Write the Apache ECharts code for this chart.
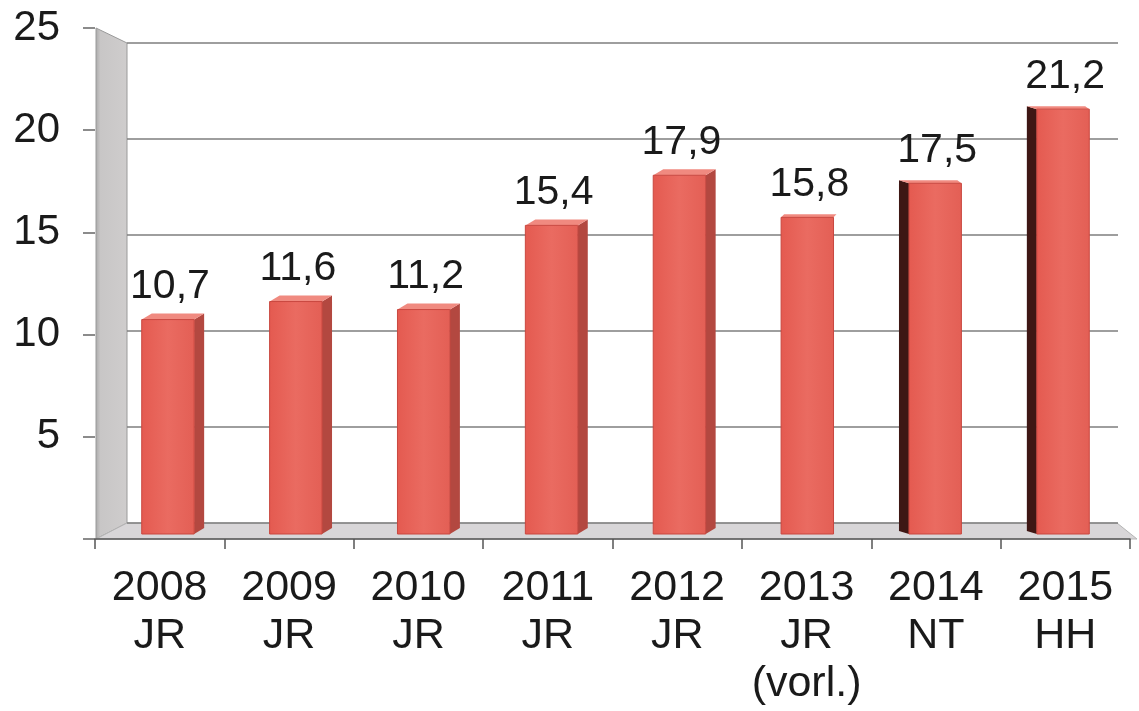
<!DOCTYPE html>
<html style="height:100%;">
<head>
    <meta charset="utf-8">
    <script src="https://cdn.jsdelivr.net/npm/echarts@6/dist/echarts.min.js"></script>
</head>
<body style="height:100%;margin:0;background:#fff;">
    <div id="main" style="width:1139px;height:711px;"></div>
</body>
</html>
<script>
    // Jahre und Quellen (Kategorien)
    var years = ['2008', '2009', '2010', '2011', '2012', '2013', '2014', '2015'];
    var sources = ['JR', 'JR', 'JR', 'JR', 'JR', 'JR\n(vorl.)', 'NT', 'HH'];
    // Werte
    var values = [10.7, 11.6, 11.2, 15.4, 17.9, 15.8, 17.5, 21.2];
    // y-Achse
    var yMin = 0, yMax = 25, yStep = 5;

    var categories = years.map(function (y, i) { return y + '\n' + sources[i]; });
    var font = "'Liberation Sans', Arial, sans-serif";

    var myChart = echarts.init(document.getElementById('main'));

    // 3D-Balken: Vorderseite + Seitenfläche
    function renderBar(params, api) {
        var i = api.value(0), v = api.value(1);
        var top = api.coord([i, v]);
        var base = api.coord([i, 0]);
        var w = api.size([1, 0])[0] * 0.41;
        var x0 = top[0] - w / 2, x1 = top[0] + w / 2;
        var d = 10, dy = 6;
        var children = [];
        if (i < 5) {
            children.push({type: 'polygon', shape: {points: [[x1, top[1]], [x1 + d, top[1] - dy], [x1 + d, base[1] - dy], [x1, base[1]]]},
                style: {fill: '#b34840'}});
            children.push({type: 'polygon', shape: {points: [[x0, top[1]], [x0 + d, top[1] - dy], [x1 + d, top[1] - dy], [x1, top[1]]]},
                style: {fill: '#f08a80'}});
        } else if (i > 5) {
            children.push({type: 'polygon', shape: {points: [[x0, top[1]], [x0 - d, top[1] - dy + 3], [x0 - d, base[1] - dy + 3], [x0, base[1]]]},
                style: {fill: '#3e1714'}});
            children.push({type: 'polygon', shape: {points: [[x0 - d, top[1] - dy + 3], [x1 - 4, top[1] - dy + 3], [x1, top[1]], [x0, top[1]]]},
                style: {fill: '#f08a80'}});
        } else {
            children.push({type: 'polygon', shape: {points: [[x0, top[1]], [x0 + 3, top[1] - 3], [x1 + 3, top[1] - 3], [x1, top[1]]]},
                style: {fill: '#f08a80'}});
        }
        children.push({type: 'rect', shape: {x: x0, y: top[1], width: w, height: base[1] - top[1]},
            style: {fill: new echarts.graphic.LinearGradient(0, 0, 1, 0, [
                {offset: 0, color: '#e45a50'}, {offset: 0.5, color: '#ea6b61'}, {offset: 1, color: '#e35f55'}]),
                stroke: '#c9473f', lineWidth: 1}});
        children.push({type: 'text', x: top[0] + 2, y: top[1] - 12,
            style: {text: String(v).replace('.', ','), font: '41px ' + font, fill: '#1a1a1a',
                align: 'center', verticalAlign: 'bottom'}});
        return {type: 'group', children: children};
    }

    var option = {
        backgroundColor: '#fff',
        animation: false,
        textStyle: {fontFamily: font},
        // Seitenwand und Boden
        graphic: [
            {type: 'polygon', z: -1, shape: {points: [[96, 28], [127, 43], [127, 523], [96, 539]]},
                style: {fill: new echarts.graphic.LinearGradient(0, 0, 1, 0, [
                    {offset: 0, color: '#a9a9a9'}, {offset: 0.15, color: '#c8c6c6'}, {offset: 1, color: '#cfcdcd'}]),
                    stroke: '#9a9a9a', lineWidth: 1}},
            {type: 'polygon', z: -1, shape: {points: [[96, 539], [127, 523], [1117, 523], [1137, 539]]},
                style: {fill: '#d8d6d8', stroke: '#b5b5b5', lineWidth: 1}}
        ],
        grid: [
            {left: 95, right: 9, top: 28, bottom: 172},
            {left: 127, right: 21, top: 43, bottom: 188},
            {left: 104, right: 12, top: 33, bottom: 177}
        ],
        xAxis: [
            {type: 'category', gridIndex: 0, data: categories,
                axisLine: {show: true, lineStyle: {color: '#555', width: 1.5}},
                axisTick: {show: true, length: 10, lineStyle: {color: '#555', width: 1.5}},
                axisLabel: {show: true, margin: 25, fontSize: 43, lineHeight: 48, color: '#1a1a1a',
                    fontFamily: font, align: 'center', interval: 0}},
            {type: 'category', gridIndex: 1, data: categories, show: false},
            {type: 'category', gridIndex: 2, data: categories, show: false}
        ],
        yAxis: [
            {type: 'value', gridIndex: 0, min: yMin, max: yMax, interval: yStep,
                axisLine: {show: false},
                axisTick: {show: true, length: 12, lineStyle: {color: '#666', width: 1.5}},
                splitLine: {show: false},
                axisLabel: {show: true, margin: 35, fontSize: 42, color: '#1a1a1a', fontFamily: font,
                    formatter: function (v) { return v === 0 ? '' : String(v); }}},
            {type: 'value', gridIndex: 1, min: yMin, max: yMax, interval: yStep,
                axisLine: {show: false}, axisTick: {show: false}, axisLabel: {show: false},
                splitLine: {show: true, lineStyle: {color: '#7e7e7e', width: 1.5}}},
            {type: 'value', gridIndex: 2, min: yMin, max: yMax, interval: yStep, show: false,
                splitLine: {show: false}}
        ],
        series: [
            {
                type: 'custom',
                xAxisIndex: 2,
                yAxisIndex: 2,
                renderItem: renderBar,
                encode: {x: 0, y: 1},
                data: values.map(function (v, i) { return [i, v]; }),
                z: 5
            }
        ]
    };

    myChart.setOption(option);
</script>
